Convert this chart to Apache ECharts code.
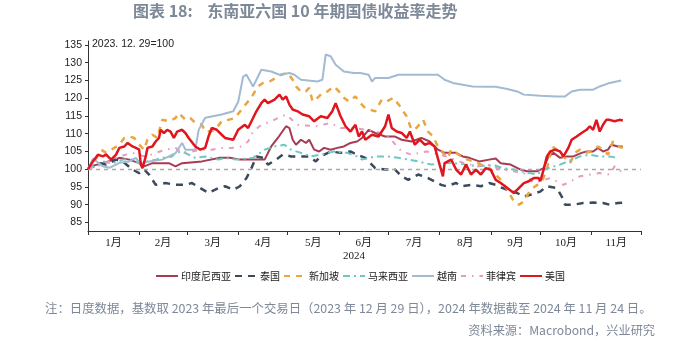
<!DOCTYPE html>
<html><head><meta charset="utf-8">
<script src="https://cdn.jsdelivr.net/npm/echarts@6/dist/echarts.min.js"></script>
<style>html,body{margin:0;padding:0;background:#fff}#c{width:700px;height:343px}</style>
</head><body><div id="c"></div>
<script>
// x = day of 2024 (0 = Jan 1), value = index (2023.12.29 = 100)
const monthStarts = [0,31,60,91,121,152,182,213,244,274,305,335];
const monthMids = [15.5,45.5,75.5,106,136.5,167,197.5,228.5,259,289.5,320];
const monthLabels = ['1月','2月','3月','4月','5月','6月','7月','8月','9月','10月','11月'];
const yTicks = [85,90,95,100,105,110,115,120,125,130,135];

const indonesia = [[0,100],[3,101],[9,101.7],[19,103.2],[25,102.7],[31,101.7],[34,100.8],[39,101.7],[49,101.7],[53,100.8],[57,101.7],[69,102.2],[80,103.2],[86,103.2],[92,102.7],[100,102.7],[107,102.7],[111,106.4],[115,108.8],[120,112.1],[122,111.6],[124,108.3],[126,106.9],[129,108.3],[132,107.4],[134,108.3],[137,105.5],[140,105],[143,106],[147,105.5],[151,106],[155,106.4],[159,107.4],[163,107.8],[166,108.8],[170,111.1],[174,110.2],[180,109.2],[186,109.2],[190,108.3],[196,107.8],[202,108.8],[207,107.8],[212,105.5],[216,104.6],[223,104.6],[227,103.6],[231,103.2],[237,102.2],[243,102.7],[247,103],[250,101.7],[256,101.3],[262,99.9],[266,99.4],[272,99.4],[276,100.3],[279,103.6],[282,104.6],[286,103.2],[290,103.6],[294,103.6],[299,104.6],[302,105],[306,105],[309,106],[312,105],[315,105.5],[317,106.9],[321,106.4],[324,106.4]];
const thailand = [[0,100],[7,101.7],[11,101.3],[17,102.7],[21,102.2],[27,99.9],[31,98.9],[34,99.9],[37,98.5],[41,95.6],[47,96.1],[53,95.6],[59,95.6],[63,96.1],[68,94.7],[73,93.3],[79,94.7],[83,95.2],[88,94.2],[92,95.2],[96,97.5],[99,100.3],[102,103.6],[106,103.2],[109,101.3],[114,102.7],[118,104.1],[123,103.6],[129,103.6],[134,103.6],[138,102.2],[141,103.6],[147,105],[153,104.6],[159,105],[163,104.1],[168,103.2],[174,100.3],[180,99.9],[186,99.9],[190,98],[194,97],[200,98.5],[206,97.5],[214,95.6],[217,95.2],[223,96.1],[226,95.2],[232,95.6],[238,95.2],[243,96.1],[247,95.6],[250,94.9],[254,94.2],[260,93.3],[264,92.3],[268,92.8],[274,93.7],[278,95.2],[284,94.7],[287,92.3],[289,90],[294,90],[300,90.5],[306,90.6],[312,90.5],[316,90],[321,90.5],[324,90.6]];
const singapore = [[0,100],[3,101.5],[8,105.5],[11,104.6],[19,106.9],[22,108.8],[25,109.2],[28,108.8],[31,106.9],[34,105.5],[36,108.3],[39,109.7],[42,108.8],[45,113.9],[49,113.5],[53,114.4],[55,115.8],[59,113.9],[62,114.4],[65,113],[69,112.5],[71,110.6],[74,110.6],[77,111.1],[81,113.5],[85,113.9],[89,114.4],[93,116.8],[97,119.1],[100,121],[103,123.3],[106,124.3],[110,124.7],[114,125.7],[117,126.6],[121,127.1],[124,125.2],[126,123.3],[129,121.9],[132,121.9],[134,122.9],[136,119.1],[139,120.1],[142,121.5],[145,121.9],[149,123.3],[152,121.9],[155,120.1],[158,119.1],[162,120.5],[165,118.6],[168,117.2],[174,116.3],[178,119.6],[181,119.1],[185,120.1],[189,117.7],[193,114.9],[196,111.1],[199,111.6],[203,113.9],[206,110.6],[209,109.2],[212,106.4],[215,104.6],[218,103.2],[220,105.5],[223,104.6],[226,103.6],[230,102.7],[234,102.2],[238,101.3],[242,100.8],[245,99.5],[248,98],[251,96.6],[254,94.2],[258,90.9],[261,90],[264,90.9],[268,94.2],[271,95.2],[275,96.6],[278,99.9],[281,106.4],[284,105.5],[288,103.6],[292,101.7],[295,104.6],[298,105.5],[301,104.6],[305,105],[309,106.4],[312,105.5],[315,104.1],[318,107.8],[321,106.4],[324,106]];
const malaysia = [[0,100],[9,102.2],[15,101.7],[21,102.7],[27,102.7],[31,101.7],[36,102.2],[41,102.7],[45,103.2],[51,103.6],[53,104.6],[57,105],[65,103.2],[71,103.6],[79,102.7],[83,103.2],[90,102.7],[100,103.2],[107,105.5],[113,106.4],[119,106.9],[123,105.5],[129,104.6],[135,103.6],[141,104.1],[149,105],[157,104.6],[163,103.6],[166,102.7],[174,103.6],[182,103.6],[188,103.2],[200,102.2],[208,101.3],[216,101.8],[226,101.5],[236,100.8],[246,101.2],[251,100.3],[258,99.9],[262,99.4],[272,98.5],[276,99.9],[286,101.3],[298,103.6],[304,104.1],[310,103.6],[316,103.6],[321,103.2]];
const vietnam = [[0,100],[3,103],[9,100.8],[13,100.4],[19,101.8],[25,102.2],[29,103.2],[32,101.3],[35,102],[45,102.7],[53,104.5],[57,107.4],[59,105.5],[65,105.5],[67,111],[71,114.5],[81,115.4],[88,116.3],[91,119],[94,126.1],[96,126.6],[100,123.3],[105,128],[111,127.5],[116,126.6],[122,127.1],[125,126.6],[129,125.2],[139,124.7],[142,125.2],[144,132.3],[147,131.8],[150,129.4],[155,127.5],[161,127.1],[165,127.1],[170,126.6],[172,124.7],[174,125.7],[182,125.7],[188,126.6],[202,126.6],[212,126.6],[216,125.2],[221,124.3],[227,123.8],[233,123.3],[241,123.2],[247,123.2],[254,122.6],[260,121.9],[264,121],[274,120.7],[284,120.5],[289,120.5],[293,121.9],[298,122.4],[306,122.4],[310,123.3],[316,124.3],[323,125]];
const philippines = [[0,100],[10,101.5],[19,103.6],[27,104.6],[35,103.5],[41,104.6],[47,105.5],[53,106],[57,104.6],[63,105],[69,105.5],[75,105.5],[81,106],[87,106],[93,106.4],[97,107.8],[100,110.6],[105,112.5],[111,113.5],[115,114.4],[120,115.4],[127,112.5],[138,112.1],[147,113],[153,111.6],[161,111.6],[168,111.1],[175,110.5],[181,109.7],[190,105],[196,104.1],[205,105],[217,103.6],[228,101.7],[236,100.8],[242,101.3],[250,100],[264,98.9],[270,96.1],[280,97.5],[284,96.6],[288,95.6],[294,97],[298,98],[304,98.5],[310,98.9],[316,98.5],[319,100.8],[323,99.4]];
const usa = [[0,100],[3,102.2],[6,104.1],[9,103.6],[11,104.1],[14,102.7],[17,104.1],[19,106],[22,106.4],[24,107.4],[27,106.4],[29,106],[31,105.5],[32,101.3],[33,100.3],[35,103.6],[36,106],[37,105.5],[39,106.4],[41,107.8],[43,108.8],[44,111.1],[46,110.2],[48,111.1],[50,110.6],[52,108.8],[54,110.6],[57,111.1],[59,110.2],[61,108.8],[65,106.4],[68,105.5],[71,106],[73,109.2],[75,111.6],[78,111.1],[81,109.7],[83,108.8],[88,108.3],[91,111.1],[95,112.5],[97,111.6],[100,114.4],[102,116.3],[105,118.6],[107,119.6],[109,118.6],[113,119.6],[116,121],[118,119.6],[120,120.5],[122,118.2],[124,116.8],[127,116.3],[130,115.4],[134,114.9],[137,113.5],[141,114.9],[145,114.4],[148,116.3],[150,118.6],[153,114.9],[156,112.1],[159,110.6],[162,112.5],[164,109.2],[166,110.6],[168,108.3],[172,109.7],[176,109.2],[180,112.1],[182,115.4],[184,111.6],[187,110.6],[190,110.2],[193,108.8],[195,110.6],[198,106.9],[201,108.3],[204,106.9],[207,107.4],[210,106.4],[213,101.3],[215,98],[216,101.7],[220,102.7],[223,99.9],[226,98.5],[229,101.3],[232,98.5],[235,99.9],[238,98.5],[241,100.3],[244,99.8],[247,97],[250,96.1],[254,94.7],[258,93.3],[261,94.7],[264,96.1],[267,96.6],[270,97.5],[273,97.5],[274,96.6],[276,99.9],[278,103.6],[280,105],[283,105.5],[286,105],[288,103.6],[291,106],[293,108.3],[296,109.2],[299,110.2],[302,111.1],[304,112.1],[306,111.1],[308,113.9],[310,110.6],[312,112.5],[314,113.9],[316,113.9],[319,113.5],[322,113.9],[324,113.7]];

const seriesNames = ['印度尼西亚','泰国','新加坡','马来西亚','越南','菲律宾','美国'];
const seriesData = [indonesia, thailand, singapore, malaysia, vietnam, philippines, usa];
const seriesColors = ['#a83a52','#3d4a5c','#e8a540','#6cc8c2','#a2bad2','#e59cc1','#e0151d'];
const seriesTypes = ['solid',[7,6],[6,6],[7,4,2,4],'solid',[5,6,1.5,6],'solid'];
const seriesWidths = [2,2.5,2.5,2,2,2,2.5];

const chart = echarts.init(document.getElementById('c'), null, {renderer:'canvas'});
const series = seriesNames.map((n,i)=>({
  name:n, type:'line', data:seriesData[i], showSymbol:false, symbol:'none', smooth:false,
  lineStyle:{color:seriesColors[i], width:seriesWidths[i], type:seriesTypes[i]},
  itemStyle:{color:seriesColors[i]}, z: 2+i,
  markLine: i===0 ? {silent:true, symbol:['none','none'], label:{show:false},
    lineStyle:{color:'#a9a9a9', type:[4,4], width:1.3}, data:[{yAxis:100}]} : undefined
}));

chart.setOption({
  animation:false,
  backgroundColor:'#fff',
  grid:{left:88, right:59, top:41, bottom:112, containLabel:false},
  xAxis:{type:'value', min:0, max:335,
    axisLine:{show:true, lineStyle:{color:'#333', width:1}},
    axisTick:{show:true, customValues:monthStarts, length:4, lineStyle:{color:'#333'}},
    axisLabel:{show:true, customValues:monthMids, margin:7, color:'#222', fontSize:11,
      fontFamily:'"Liberation Serif","Noto Sans CJK SC",serif',
      formatter:(v)=>{const k=monthMids.indexOf(v);return k>=0?monthLabels[k]:'';}},
    splitLine:{show:false}},
  yAxis:{type:'value', min:82.6, max:136.1,
    axisLine:{show:true, lineStyle:{color:'#333', width:1}},
    axisTick:{show:true, customValues:yTicks, length:3, lineStyle:{color:'#333'}},
    axisLabel:{show:true, customValues:yTicks, margin:6, color:'#222', fontSize:10.5,
      fontFamily:'"Liberation Sans",Arial,sans-serif'},
    splitLine:{show:false}},
  legend:{data:seriesNames, left:150, top:266, itemWidth:22, itemHeight:8, itemGap:3,
    itemStyle:{opacity:0},
    textStyle:{fontSize:10, color:'#222', fontFamily:'"Noto Sans CJK SC",sans-serif', padding:[0,0,0,-2]}},
  graphic:[
    {type:'text', left:133, top:3, style:{text:'图表 18:    东南亚六国 10 年期国债收益率走势', fill:'#7d8898',
      font:'bold 16px "Noto Sans CJK SC", sans-serif'}},
    {type:'text', left:92, top:39, style:{text:'2023. 12. 29=100', fill:'#222',
      font:'10.5px "Liberation Sans", Arial, sans-serif'}},
    {type:'text', left:343, top:251, style:{text:'2024', fill:'#222',
      font:'11px "Liberation Serif", serif'}},
    {type:'text', left:45, top:302, style:{text:'注：日度数据，基数取 2023 年最后一个交易日（2023 年 12 月 29 日），2024 年数据截至 2024 年 11 月 24 日。', fill:'#7d8898',
      font:'12.4px "Noto Sans CJK SC", sans-serif'}},
    {type:'text', right:45, top:324, style:{text:'资料来源：Macrobond，兴业研究', fill:'#7d8898',
      font:'12.2px "Noto Sans CJK SC", sans-serif'}}
  ],
  series: series
});
</script></body></html>
